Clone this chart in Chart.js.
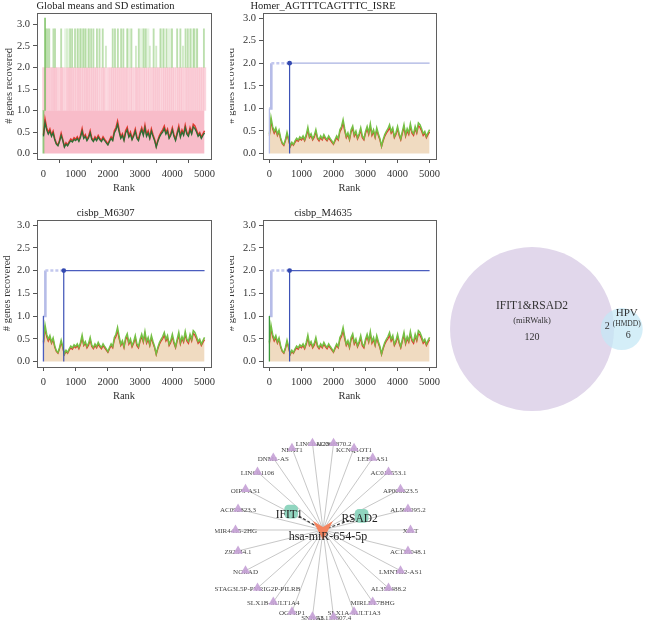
<!DOCTYPE html>
<html>
<head>
<meta charset="utf-8">
<script src="https://cdn.jsdelivr.net/npm/chart.js@4.4.1/dist/chart.umd.min.js"></script>
<style>
  body { margin: 0; background: #fff; }
  #fig { position: relative; width: 646px; height: 620px; overflow: hidden; background: #fff; }
  .box { position: absolute; overflow: hidden; }
  canvas { position: absolute; }
</style>
</head>
<body>
<div id="fig">
  <div class="box" style="left:0;top:0;width:230px;height:207px"><canvas id="p1" width="250" height="200" style="left:0;top:0"></canvas></div>
  <div class="box" style="left:230px;top:0;width:216px;height:207px"><canvas id="p2" width="252" height="200" style="left:-20px;top:0"></canvas></div>
  <div class="box" style="left:0;top:207px;width:230px;height:205px"><canvas id="p3" width="248" height="200" style="left:0;top:0"></canvas></div>
  <div class="box" style="left:230px;top:207px;width:216px;height:205px"><canvas id="p4" width="270" height="200" style="left:-20px;top:0"></canvas></div>
  <canvas id="venn" width="206" height="180" style="left:440px;top:240px"></canvas>
  <canvas id="net" width="225" height="195" style="left:215px;top:425px"></canvas>
</div>
<script>
const SERIF = "'Liberation Serif', 'Times New Roman', serif";

// recovery curves, sampled every 50 ranks (0..5000)
const rankStep = 50;
const rankTicks = [0, 1000, 2000, 3000, 4000, 5000];
const genesTicks = [0, 0.5, 1, 1.5, 2, 2.5, 3];

const avgRecovery = [
  0.40, 0.72, 0.55, 0.45, 0.52, 0.40, 0.48, 0.32, 0.22, 0.18,
  0.28, 0.42, 0.30, 0.15, 0.22, 0.18, 0.25, 0.30, 0.27, 0.33,
  0.30, 0.35, 0.28, 0.38, 0.52, 0.35, 0.40, 0.30, 0.36, 0.48,
  0.33, 0.28, 0.35, 0.30, 0.38, 0.32, 0.28, 0.35, 0.30, 0.25,
  0.20, 0.28, 0.35, 0.30, 0.48, 0.55, 0.68, 0.50, 0.35, 0.42,
  0.30, 0.48, 0.55, 0.38, 0.45, 0.32, 0.40, 0.52, 0.35, 0.30,
  0.45, 0.55, 0.42, 0.60, 0.40, 0.48, 0.35, 0.52, 0.40, 0.30,
  0.15, 0.28, 0.38, 0.45, 0.50, 0.58, 0.45, 0.52, 0.35, 0.42,
  0.55, 0.40, 0.30, 0.45, 0.58, 0.38, 0.50, 0.42, 0.60, 0.45,
  0.40, 0.55, 0.45, 0.62, 0.58, 0.50, 0.40, 0.45, 0.35, 0.42,
  0.48
];
const sdRecovery = [
  0.03, 0.08, 0.05, 0.04, 0.05, 0.03, 0.04, 0.03, 0.02, 0.02,
  0.03, 0.05, 0.03, 0.02, 0.03, 0.02, 0.03, 0.04, 0.03, 0.04,
  0.03, 0.04, 0.03, 0.04, 0.06, 0.03, 0.04, 0.03, 0.04, 0.05,
  0.03, 0.03, 0.04, 0.03, 0.04, 0.03, 0.03, 0.04, 0.03, 0.03,
  0.02, 0.03, 0.04, 0.03, 0.05, 0.05, 0.07, 0.05, 0.03, 0.04,
  0.03, 0.05, 0.06, 0.04, 0.05, 0.03, 0.04, 0.05, 0.04, 0.03,
  0.04, 0.05, 0.04, 0.06, 0.04, 0.05, 0.03, 0.05, 0.04, 0.03,
  0.02, 0.03, 0.04, 0.04, 0.05, 0.06, 0.04, 0.05, 0.03, 0.04,
  0.05, 0.04, 0.03, 0.04, 0.06, 0.04, 0.05, 0.04, 0.06, 0.04,
  0.04, 0.05, 0.04, 0.06, 0.06, 0.05, 0.04, 0.04, 0.03, 0.04,
  0.05
];

// global panel: ranks where single motif curves reach 2 / 3 genes
const pinkRanks = [10, 60, 110, 170, 230, 290, 330, 380, 430, 520, 560, 610, 700, 760, 800, 850,
  900, 960, 1020, 1080, 1120, 1180, 1240, 1300, 1350, 1400, 1460, 1520, 1580, 1640, 1700, 1780,
  1850, 1900, 2000, 2080, 2140, 2200, 2260, 2320, 2380, 2440, 2500, 2560, 2620, 2700, 2760, 2850,
  2900, 2960, 3020, 3100, 3160, 3230, 3300, 3380, 3440, 3500, 3560, 3620, 3700, 3760, 3820, 3880,
  3940, 4000, 4060, 4140, 4200, 4260, 4320, 4400, 4460, 4520, 4580, 4640, 4700, 4760, 4820, 4880,
  4940, 5000];
const greenRanks = [80, 130, 180, 310, 360, 550, 830, 890, 980, 1060, 1150, 1240, 1300, 1410, 1480,
  1550, 1660, 1740, 1840, 2150, 2220, 2310, 2410, 2480, 2600, 2730, 2960, 3110, 3170, 3420, 3630,
  3730, 3820, 3990, 4150, 4250, 4410, 4480, 4560, 4670, 4770, 4980];
const paleGreenRanks = [700, 760, 1100, 1200, 1350, 2650, 3050, 3230, 3680, 3920, 4620, 4720];
const shortGreenRanks = [1940, 2870, 3300, 3500, 4330];
const topGreenRank = 50;

// motif panels
const motifTitles = ["Homer_AGTTTCAGTTTC_ISRE", "cisbp_M6307", "cisbp_M4635"];
const recoveredRanks = [0, 60];
const enrichRank = 630;

const curve = vals => vals.map((v, i) => ({ x: i * rankStep, y: v }));
const avgPts = curve(avgRecovery);
const upperPts = curve(avgRecovery.map((v, i) => v + sdRecovery[i]));

const framePlugin = {
  id: 'frame',
  afterDatasetsDraw(chart) {
    const { ctx, chartArea: a } = chart;
    ctx.save();
    ctx.strokeStyle = '#5f5f5f';
    ctx.lineWidth = 1;
    ctx.strokeRect(Math.round(a.left) + 0.5, Math.round(a.top) + 0.5,
      Math.round(a.right - a.left), Math.round(a.bottom - a.top));
    ctx.restore();
  }
};

function axisOptions(cfg) {
  const font = { family: SERIF, size: 10.5 };
  return {
    x: {
      type: 'linear', min: -200, max: 5200, offset: false,
      afterFit: s => { s.height = 35.3; },
      afterBuildTicks: s => { s.ticks = rankTicks.map(v => ({ value: v })); },
      grid: { drawOnChartArea: false, tickLength: 4, color: '#555' },
      border: { display: false },
      ticks: { font, color: '#333', padding: 5, maxRotation: 0, autoSkip: false, callback: v => String(v) },
      title: { display: true, text: 'Rank', font, color: '#333', padding: 0 }
    },
    y: {
      min: cfg.yMin, max: cfg.yMax,
      afterFit: s => { s.width = cfg.yWidth; },
      afterBuildTicks: s => { s.ticks = genesTicks.map(v => ({ value: v })); },
      grid: { drawOnChartArea: false, tickLength: 4, color: '#555' },
      border: { display: false },
      ticks: { font, color: '#333', padding: 3, callback: v => v.toFixed(1) },
      title: { display: true, text: '# genes recovered', font, color: '#333', padding: { top: cfg.yTitlePad, bottom: 0 } }
    }
  };
}

function baseOptions(cfg) {
  return {
    responsive: false,
    animation: false,
    layout: { autoPadding: false, padding: { left: 0, right: cfg.padRight, top: 0, bottom: cfg.padBottom } },
    plugins: {
      legend: { display: false },
      tooltip: { enabled: false },
      title: { display: true, text: cfg.title, font: { family: SERIF, size: 10.5, weight: 'normal' }, color: '#222', padding: 0 }
    },
    elements: { point: { radius: 0 }, line: { tension: 0 } },
    scales: axisOptions(cfg)
  };
}

// panel 1: global means and SD
(function () {
  const bars = (ranks, lo, hi) => ranks.map(r => ({ x: r, y: [lo, hi] }));
  const datasets = [
    { type: 'line', data: upperPts, borderColor: '#E2352C', borderWidth: 1.5, order: 1 },
    { type: 'line', data: avgPts, borderColor: '#2C6E34', borderWidth: 1.3, order: 0 },
    { type: 'bar', data: bars(greenRanks, 2, 2.9), backgroundColor: 'rgba(160,210,140,0.7)', barThickness: 1.2, grouped: false, order: 3 },
    { type: 'bar', data: bars(paleGreenRanks, 2, 2.9), backgroundColor: 'rgba(190,228,178,0.4)', barThickness: 3, grouped: false, order: 4 },
    { type: 'bar', data: bars(shortGreenRanks, 2, 2.5), backgroundColor: 'rgba(175,218,158,0.6)', barThickness: 1.2, grouped: false, order: 4 },
    { type: 'bar', data: [{ x: topGreenRank, y: [1, 3.15] }, { x: 0, y: [0, 1] }], backgroundColor: 'rgba(120,190,95,0.8)', barThickness: 1.2, grouped: false, order: 2 },
    { type: 'bar', data: bars(pinkRanks, 1, 2), backgroundColor: 'rgba(248,186,200,0.6)', barThickness: 2.6, grouped: false, order: 5 },
    { type: 'line', data: [{ x: 0, y: 1 }, { x: 5000, y: 1 }], borderWidth: 0, fill: 'origin', backgroundColor: '#F8BCC9', order: 6 }
  ];
  new Chart(document.getElementById('p1'), {
    type: 'line',
    data: { datasets },
    options: baseOptions({ title: 'Global means and SD estimation', padRight: 39, padBottom: 5.7, yWidth: 37, yTitlePad: 2.7, yMin: -0.126, yMax: 3.276 }),
    plugins: [framePlugin]
  });
})();

// panels 2-4: motif recovery curves
function motifPanel(id, cfg) {
  let hits = 0;
  const steps = [];
  recoveredRanks.forEach((r, i) => {
    if (i > 0) steps.push({ x: r, y: hits });
    hits++;
    steps.push({ x: r, y: hits });
  });
  steps.push({ x: enrichRank, y: hits });
  const datasets = [
    { data: [{ x: enrichRank, y: hits }], pointRadius: 2.4, pointBackgroundColor: '#3349B0', pointBorderWidth: 0, showLine: false, order: 0 },
    { data: [{ x: enrichRank, y: 0 }, { x: enrichRank, y: hits }], borderColor: '#3D52B6', borderWidth: 1.2, order: 1 },
    { data: [{ x: enrichRank, y: hits }, { x: 5000, y: hits }], borderColor: cfg.afterColor, borderWidth: 1.3, order: 2 },
    { data: steps, borderColor: '#B6BCE8', borderWidth: 2.6,
      segment: { borderDash: c => c.p1DataIndex === steps.length - 1 ? [3, 2] : undefined,
                 borderColor: c => c.p1DataIndex === steps.length - 1 ? '#C3C8EE' : undefined }, order: 3 },
    { data: [{ x: recoveredRanks[0], y: 0 }, { x: recoveredRanks[0], y: 1 }], borderColor: cfg.firstColor, borderWidth: 1.3, order: 2 },
    { data: upperPts, borderColor: '#74C043', borderWidth: 1.5, order: 4 },
    { data: avgPts, borderColor: '#E2352C', borderWidth: 1.3, order: 5 },
    { data: avgPts, borderWidth: 0, fill: 'origin', backgroundColor: '#F0DBC1', order: 6 }
  ];
  new Chart(document.getElementById(id), {
    type: 'line',
    data: { datasets },
    options: baseOptions(Object.assign({ yMin: -0.12, yMax: 3.12 }, cfg)),
    plugins: [framePlugin]
  });
}

motifPanel('p2', { title: motifTitles[0], padRight: 26, padBottom: 5.7, yWidth: 53, yTitlePad: 14.7, afterColor: '#A9B2E2', firstColor: '#B6BCE8' });
motifPanel('p3', { title: motifTitles[1], padRight: 37, padBottom: 4.7, yWidth: 37, yTitlePad: 0.7, afterColor: '#4A5DBE', firstColor: '#4A5DBE' });
motifPanel('p4', { title: motifTitles[2], padRight: 44, padBottom: 4.7, yWidth: 53, yTitlePad: 14.7, afterColor: '#4A5DBE', firstColor: '#3C9A3C' });

// Venn: miRNAs predicted for IFIT1&RSAD2 vs HPV-related miRNAs
const vennSets = ["IFIT1&RSAD2", "HPV"];
const vennSources = ["(miRWalk)", "(HMDD)"];
const vennOnly = [120, 6];
const vennShared = 2;

const sizeA = vennOnly[0] + vennShared, sizeB = vennOnly[1] + vennShared;
const rA = Math.sqrt(sizeA), rB = Math.sqrt(sizeB);
const clamp = v => Math.max(-1, Math.min(1, v));
function lensArea(d) {
  const a = rA * rA * Math.acos(clamp((d * d + rA * rA - rB * rB) / (2 * d * rA)));
  const b = rB * rB * Math.acos(clamp((d * d + rB * rB - rA * rA) / (2 * d * rB)));
  const c = 0.5 * Math.sqrt(Math.max(0, (-d + rA + rB) * (d + rA - rB) * (d - rA + rB) * (d + rA + rB)));
  return a + b - c;
}
let lo = Math.abs(rA - rB), hi = rA + rB;
for (let i = 0; i < 60; i++) {
  const mid = (lo + hi) / 2;
  if (lensArea(mid) > Math.PI * vennShared) lo = mid; else hi = mid;
}
const dAB = (lo + hi) / 2;

const unitPx = c => c.chart.scales.x.getPixelForValue(1) - c.chart.scales.x.getPixelForValue(0);
const vennLabels = {
  id: 'vennLabels',
  afterDatasetsDraw(chart) {
    const { ctx } = chart;
    const sx = chart.scales.x, sy = chart.scales.y;
    const u = sx.getPixelForValue(1) - sx.getPixelForValue(0);
    const ax = sx.getPixelForValue(0), bx = sx.getPixelForValue(dAB), cy = sy.getPixelForValue(0);
    const pa = rA * u, pb = rB * u;
    ctx.save();
    ctx.fillStyle = '#333';
    ctx.textAlign = 'center';
    ctx.textBaseline = 'middle';
    const txt = (t, x, y, s) => { ctx.font = s + 'px ' + SERIF; ctx.fillText(t, x, y); };
    txt(vennSets[0], ax, cy - 23, 11.5);
    txt(vennSources[0], ax, cy - 8, 8.5);
    txt(String(vennOnly[0]), ax, cy + 8, 10);
    txt(vennSets[1], bx + 5, cy - 16, 11);
    txt(vennSources[1], bx + 5, cy - 5, 7.5);
    txt(String(vennOnly[1]), (ax + pa + bx + pb) / 2, cy + 6, 10);
    txt(String(vennShared), (ax + pa + bx - pb) / 2, cy - 3, 10);
    ctx.restore();
  }
};

new Chart(document.getElementById('venn'), {
  type: 'scatter',
  data: {
    datasets: [
      { data: [{ x: dAB, y: 0 }], pointRadius: c => rB * unitPx(c), backgroundColor: 'rgba(196,232,245,0.72)', borderWidth: 0, order: 0 },
      { data: [{ x: 0, y: 0 }], pointRadius: c => rA * unitPx(c), backgroundColor: '#E1D7EB', borderWidth: 0, order: 1 }
    ]
  },
  options: {
    responsive: false, animation: false,
    layout: { autoPadding: false, padding: 0 },
    plugins: { legend: { display: false }, tooltip: { enabled: false } },
    scales: {
      x: { type: 'linear', min: -12.4, max: 15.36, display: false },
      y: { type: 'linear', min: -12.26, max: 12.0, display: false }
    }
  },
  plugins: [vennLabels]
});

// network: hsa-miR-654-5p with its lncRNAs and target genes
const hubName = "hsa-miR-654-5p";
const targetGenes = ["IFIT1", "RSAD2"];
const lncRNAs = ["AC068870.2", "KCNQ1OT1", "LEF1-AS1", "AC010553.1", "AP006623.5", "AL590095.2",
  "XIST", "AC135048.1", "LMNTD2-AS1", "AL356488.2", "MIRLET7BHG", "SLX1A-SULT1A3", "AL139807.4",
  "SNHG3", "OGFRP1", "SLX1B-SULT1A4", "STAG3L5P-PVRIG2P-PILRB", "NORAD", "Z92544.1",
  "MIR4435-2HG", "AC092823.3", "OIP5-AS1", "LINC01106", "DNM1-AS", "NEAT1", "LINC01123"];

// circular layout, hub in the middle
const n = lncRNAs.length;
const ringPts = lncRNAs.map((name, i) => {
  const a = (90 - 180 / n - i * 360 / n) * Math.PI / 180;
  return { x: Math.cos(a), y: Math.sin(a), name };
});
const targetLayout = [[150, 0.42], [20, 0.47]];
const targetPts = targetGenes.map((name, i) => {
  const a = targetLayout[i][0] * Math.PI / 180;
  return { x: targetLayout[i][1] * Math.cos(a), y: targetLayout[i][1] * Math.sin(a), name };
});
const hubPt = { x: 0, y: 0, name: hubName };
const gap = { x: NaN, y: NaN };
const edges = ringPts.flatMap(p => [hubPt, p, gap]);
const targetEdges = targetPts.flatMap(p => [hubPt, p, gap]);

const hubImg = document.createElement('canvas');
hubImg.width = 20; hubImg.height = 20;
{
  const g = hubImg.getContext('2d');
  g.fillStyle = '#F4845F';
  g.beginPath();
  g.moveTo(0, 1); g.lineTo(10, 7); g.lineTo(20, 1); g.lineTo(10, 20);
  g.closePath(); g.fill();
}

const netLabels = {
  id: 'netLabels',
  beforeDatasetDraw(chart, args) {
    if (args.index !== 2) return;
    const { ctx } = chart;
    const sx = chart.scales.x, sy = chart.scales.y;
    ctx.save();
    ctx.fillStyle = '#444';
    ctx.font = '7px ' + SERIF;
    ctx.textAlign = 'center';
    ctx.textBaseline = 'middle';
    ringPts.forEach(p => ctx.fillText(p.name, sx.getPixelForValue(p.x), sy.getPixelForValue(p.y) + 1.5));
    ctx.restore();
  },
  afterDatasetsDraw(chart) {
    const { ctx } = chart;
    const sx = chart.scales.x, sy = chart.scales.y;
    ctx.save();
    ctx.fillStyle = '#222';
    ctx.textAlign = 'center';
    ctx.textBaseline = 'middle';
    ctx.font = '11.5px ' + SERIF;
    targetPts.forEach(p => ctx.fillText(p.name, sx.getPixelForValue(p.x) - 2, sy.getPixelForValue(p.y) + 3));
    ctx.font = '12px ' + SERIF;
    ctx.fillText(hubName, sx.getPixelForValue(0) + 5, sy.getPixelForValue(0) + 7);
    ctx.restore();
  }
};

new Chart(document.getElementById('net'), {
  type: 'scatter',
  data: {
    datasets: [
      { type: 'line', data: edges, borderColor: '#B9B9B9', borderWidth: 0.8, pointRadius: 0, spanGaps: false, order: 4 },
      { type: 'line', data: targetEdges, borderColor: '#333', borderWidth: 1.1, borderDash: [3, 2], pointRadius: 0, spanGaps: false, order: 3 },
      { data: ringPts, pointStyle: 'triangle', pointRadius: 5.5, backgroundColor: 'rgba(199,163,215,0.92)', borderWidth: 0, order: 2 },
      { data: targetPts, pointStyle: 'rectRounded', pointRadius: 8, backgroundColor: '#90D5BF', borderWidth: 0, order: 1 },
      { data: [hubPt], pointStyle: hubImg, pointRadius: 10, order: 0 }
    ]
  },
  options: {
    responsive: false, animation: false,
    layout: { autoPadding: false, padding: 0 },
    plugins: { legend: { display: false }, tooltip: { enabled: false } },
    scales: {
      x: { type: 'linear', min: -1.2343, max: 1.3371, display: false },
      y: { type: 'linear', min: -1.0286, max: 1.2, display: false }
    }
  },
  plugins: [netLabels]
});
</script>
</body>
</html>
